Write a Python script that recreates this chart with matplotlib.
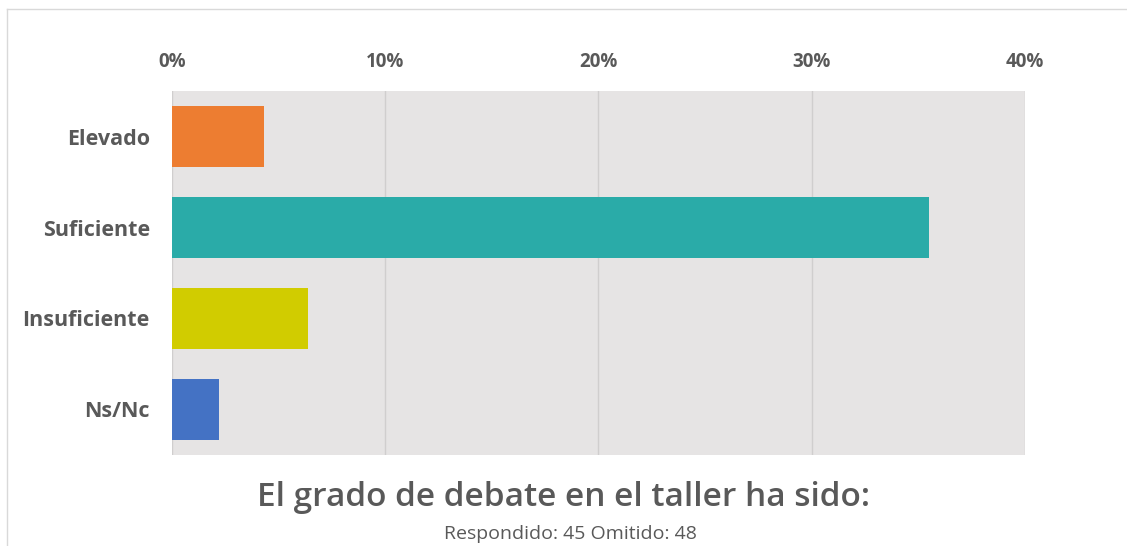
import matplotlib.pyplot as plt
from matplotlib.lines import Line2D

# data
categories = ['Elevado', 'Suficiente', 'Insuficiente', 'Ns/Nc']
values = [4.3, 35.5, 6.4, 2.2]
colors = ['#ed7d31', '#2aaba8', '#d1cc00', '#4472c4']
xticks = [0, 10, 20, 30, 40]
xtick_labels = ['0%', '10%', '20%', '30%', '40%']

plt.rcParams['font.family'] = ['Open Sans', 'DejaVu Sans']
text_color = '#595959'

fig = plt.figure(figsize=(11.27, 5.46), dpi=100)
ax = fig.add_axes([0.1526, 0.1667, 0.7569, 0.6666])
ax.set_facecolor('#e6e4e4')

y = range(len(categories))
ax.barh(y, values, height=0.66, color=colors, zorder=3)

ax.set_xlim(0, 40)
ax.set_ylim(len(categories) - 0.5, -0.5)
ax.set_yticks(list(y))
ax.set_yticklabels(categories, fontsize=15.5, fontweight='bold', color=text_color)
ax.set_xticks(xticks)
ax.set_xticklabels(xtick_labels, fontsize=13.5, fontweight='bold', color=text_color)
ax.xaxis.tick_top()
ax.tick_params(axis='both', length=0)
ax.tick_params(axis='x', pad=14)
ax.tick_params(axis='y', pad=16)
ax.grid(axis='x', color='#d0cece', linewidth=1, zorder=0)
for s in ax.spines.values():
    s.set_visible(False)

fig.text(0.5, 0.088, 'El grado de debate en el taller ha sido:', ha='center', va='center',
         fontsize=24, fontweight='semibold', color=text_color)
fig.text(0.506, 0.022, 'Respondido: 45 Omitido: 48', ha='center', va='center',
         fontsize=14, color=text_color)

# thin frame lines on top and left of the image
fig.add_artist(Line2D([7 / 1127, 1], [1 - 9 / 546, 1 - 9 / 546], color='#d9d9d9', linewidth=1))
fig.add_artist(Line2D([7 / 1127, 7 / 1127], [0, 1 - 9 / 546], color='#d9d9d9', linewidth=1))

fig.savefig('out.png', dpi=100)
